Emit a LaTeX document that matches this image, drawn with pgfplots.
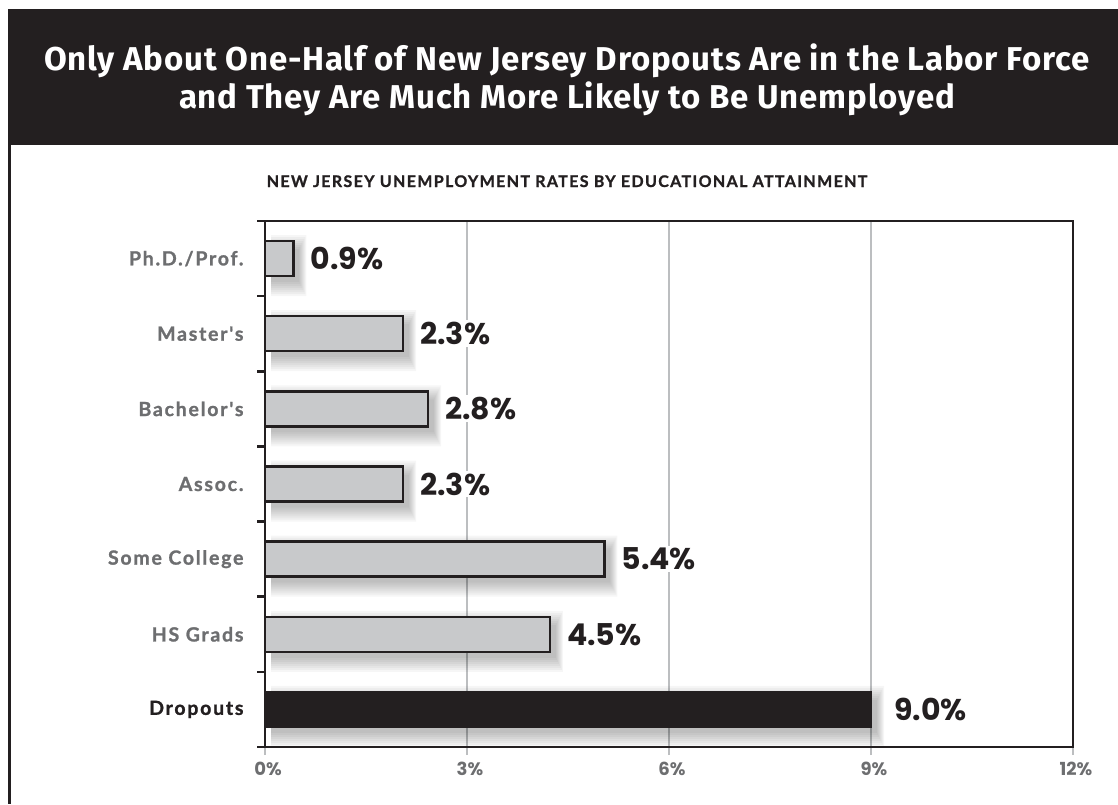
\documentclass[border=0pt]{standalone}
\usepackage{fontspec}
\usepackage{pgfplots}
\pgfplotsset{compat=1.18}
\usepackage{pgfplotstable}
\setmainfont{Lato}
\newfontfamily\titlefont{Fira Sans}[LetterSpace=2.5]
\newfontfamily\subfont{Lato}[LetterSpace=8.5, BoldFeatures={FakeBold=1.2}]
\newfontfamily\catfont{Lato}[LetterSpace=9, BoldFeatures={FakeBold=1.2}]
\newfontfamily\numfont{Poppins}
\definecolor{ink}{HTML}{231F20}
\definecolor{barfill}{HTML}{C8C9CB}
\definecolor{labgray}{HTML}{6D6E70}
\definecolor{gridgray}{HTML}{BCBEC0}

% pos = row (0 = Dropouts), len = drawn bar length (%), label = printed value
\pgfplotstableread{
pos len label
6 0.42 0.9
5 2.05 2.3
4 2.42 2.8
3 2.05 2.3
2 5.04 5.4
1 4.23 4.5
0 9.0 9.0
}\alltable
\pgfplotstableread{
pos len label
6 0.42 0.9
5 2.05 2.3
4 2.42 2.8
3 2.05 2.3
2 5.04 5.4
1 4.23 4.5
}\lighttable
\pgfplotstableread{
pos len label
0 9.0 9.0
}\darktable

\pgfplotsset{shadowlayer/.style={forget plot, fill=black, draw=none, opacity=0.035,
   xshift=6pt, yshift=-7pt}}

\begin{document}
\begin{tikzpicture}
\useasboundingbox (0pt,0pt) rectangle (1118pt,-804pt);
\fill[ink] (8pt,-9pt) rectangle (1118pt,-145pt);
\draw[ink, line width=2.5pt] (9.5pt,-145pt) -- (9.5pt,-804pt);
\node[anchor=base, text=white, font=\titlefont\bfseries\fontsize{33}{40}\selectfont] at (567pt,-70pt) {Only About One-Half of New Jersey Dropouts Are in the Labor Force};
\node[anchor=base, text=white, font=\titlefont\bfseries\fontsize{33}{40}\selectfont] at (567pt,-108pt) {and They Are Much More Likely to Be Unemployed};
\node[anchor=base, text=ink, font=\subfont\bfseries\fontsize{16}{18}\selectfont] at (567pt,-187pt) {NEW JERSEY UNEMPLOYMENT RATES BY EDUCATIONAL ATTAINMENT};

\begin{axis}[
  at={(265pt,-747pt)}, anchor=south west,
  scale only axis, width=808pt, height=526pt,
  xmin=0, xmax=12, ymin=-0.5, ymax=6.5,
  xbar, bar width=35pt, bar shift=0pt,
  axis line style={draw=none},
  tick align=outside, major tick length=8pt,
  xtick pos=left, ytick pos=left,
  xtick={3,6,9},
  /pgf/number format/assume math mode=true,
  xticklabel={\pgfmathprintnumber{\tick}\%},
  xmajorgrids, major grid style={gridgray, line width=2.2pt},
  xtick style={gridgray, line width=2.2pt},
  extra x ticks={0,12},
  extra x tick style={xmajorgrids=false, major tick style={draw=ink, line width=2.5pt}},
  xticklabel style={font=\numfont\bfseries\fontsize{18}{18}\selectfont, text=labgray, xshift=3pt, yshift=-4pt},
  ytick={-0.5,0.5,1.5,2.5,3.5,4.5,5.5,6.5},
  yticklabels={,,,,,,,},
  ytick style={ink, line width=2.5pt},
  extra y ticks={0,1,2,3,4,5,6},
  extra y tick labels={{\color{ink}Dropouts},HS Grads,Some College,Assoc.,Bachelor's,Master's,Ph.D./Prof.},
  extra y tick style={major tick style={draw=none}},
  yticklabel style={font=\catfont\bfseries\fontsize{19.5}{20}\selectfont, text=labgray, xshift=-10pt},
  clip=false,
]
\addplot[shadowlayer, bar width=33pt] table[x=len, y=pos] {\alltable};
\addplot[shadowlayer, bar width=37pt] table[x expr=\thisrow{len}+0.015, y=pos] {\alltable};
\addplot[shadowlayer, bar width=41pt] table[x expr=\thisrow{len}+0.03, y=pos] {\alltable};
\addplot[shadowlayer, bar width=45pt] table[x expr=\thisrow{len}+0.045, y=pos] {\alltable};
\addplot[shadowlayer, bar width=49pt] table[x expr=\thisrow{len}+0.06, y=pos] {\alltable};
\addplot[shadowlayer, bar width=53pt] table[x expr=\thisrow{len}+0.075, y=pos] {\alltable};
\addplot[shadowlayer, bar width=57pt] table[x expr=\thisrow{len}+0.09, y=pos] {\alltable};
\addplot[shadowlayer, bar width=61pt] table[x expr=\thisrow{len}+0.105, y=pos] {\alltable};
\addplot[fill=barfill, draw=ink, line width=2.5pt,
  point meta=explicit symbolic,
  nodes near coords={\pgfplotspointmeta\%},
  every node near coord/.append style={anchor=west, xshift=14pt, fill=white, inner sep=2pt,
     font=\numfont\bfseries\fontsize{30}{30}\selectfont, text=ink}]
  table[x=len, y=pos, meta=label] {\lighttable};
\addplot[fill=ink, draw=ink, line width=2.5pt,
  point meta=explicit symbolic,
  nodes near coords={\pgfplotspointmeta\%},
  every node near coord/.append style={anchor=west, xshift=20pt, fill=white, inner sep=2pt,
     font=\numfont\bfseries\fontsize{30}{30}\selectfont, text=ink}]
  table[x=len, y=pos, meta=label] {\darktable};
\draw[ink, line width=2.5pt, line cap=rect] (rel axis cs:0,0) rectangle (rel axis cs:1,1);
\end{axis}
\end{tikzpicture}%
\end{document}
